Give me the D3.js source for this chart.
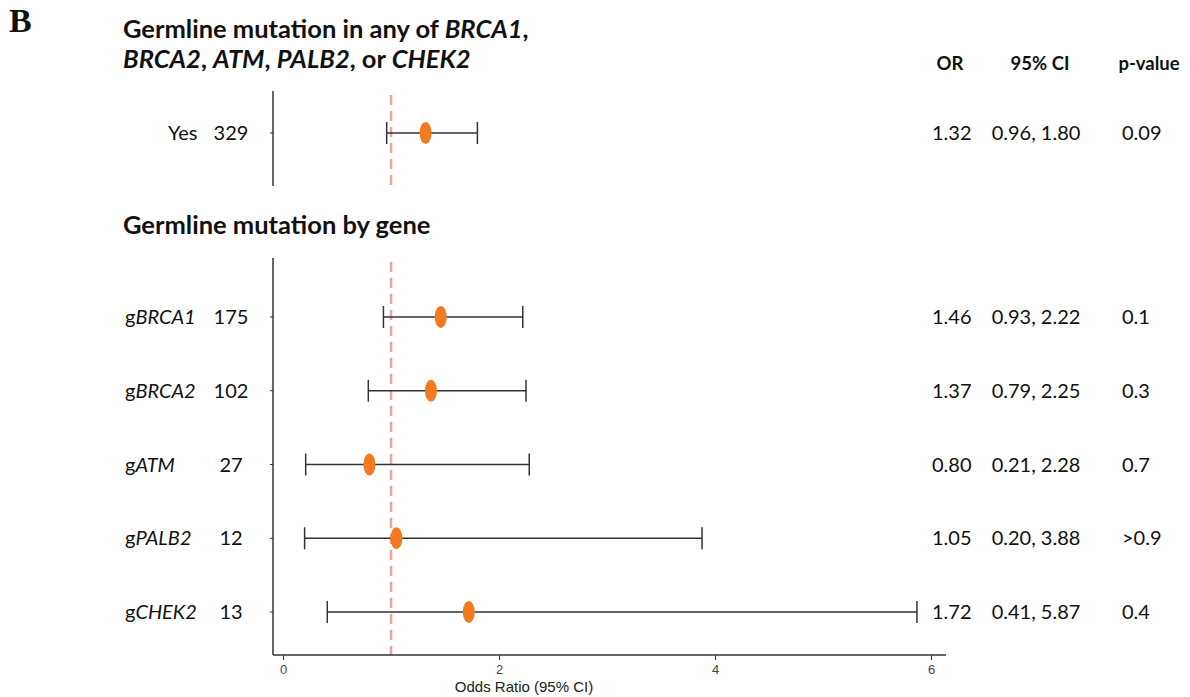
<!DOCTYPE html>
<html>
<head>
<meta charset="utf-8">
<script src="https://cdn.jsdelivr.net/npm/d3@7"></script>
<style>
  body { margin: 0; background: #fff; }
  svg text { font-family: Lato, "Open Sans", sans-serif; fill: #111; }
</style>
</head>
<body>
<div class="graf"></div>
<script>
// data - top panel
const anyLabels = ['Yes'];
const anyN = [329];
const anyOR = [1.32];
const anyLo = [0.96];
const anyHi = [1.80];
const anyP = ['0.09'];

// data - by gene
const genes = ['BRCA1', 'BRCA2', 'ATM', 'PALB2', 'CHEK2'];
const geneN = [175, 102, 27, 12, 13];
const geneOR = [1.46, 1.37, 0.80, 1.05, 1.72];
const geneLo = [0.93, 0.79, 0.21, 0.20, 0.41];
const geneHi = [2.22, 2.25, 2.28, 3.88, 5.87];
const geneP = ['0.1', '0.3', '0.7', '>0.9', '0.4'];

const xTicks = [0, 2, 4, 6];

main()
function main(){
    const width = 1190, height = 697;

    let svg = d3.select('.graf')
        .append('svg')
        .attr('width', width)
        .attr('height', height);

    const x = d3.scaleLinear().domain([0, 6]).range([283, 931]);

    const yTop = d3.scalePoint().domain(anyLabels).range([133, 133]);
    const yBot = d3.scalePoint().domain(genes).range([317, 612]);

    // panel letter + titles
    svg.append('text').attr('x', 9).attr('y', 32)
        .style('font-family', '"Liberation Serif", serif')
        .style('font-weight', 'bold').style('font-size', '34px').text('B');

    const titleSize = '25.5px';
    let t1 = svg.append('text').attr('x', 123).attr('y', 38)
        .style('font-weight', 'bold').style('font-size', titleSize);
    t1.append('tspan').text('Germline mutation in any of ');
    t1.append('tspan').style('font-style', 'italic').text('BRCA1');
    t1.append('tspan').text(',');

    let t2 = svg.append('text').attr('x', 123).attr('y', 68)
        .style('font-weight', 'bold').style('font-size', titleSize);
    [['BRCA2', 1], [', ', 0], ['ATM', 1], [', ', 0], ['PALB2', 1], [', or ', 0], ['CHEK2', 1]]
        .forEach(([s, it]) => t2.append('tspan').style('font-style', it ? 'italic' : 'normal').text(s));

    svg.append('text').attr('x', 123).attr('y', 234)
        .style('font-weight', 'bold').style('font-size', titleSize)
        .text('Germline mutation by gene');

    // table headers
    [['OR', 950], ['95% CI', 1040], ['p-value', 1149]].forEach(([s, cx]) => {
        svg.append('text').attr('x', cx).attr('y', 70)
            .attr('text-anchor', 'middle')
            .style('font-weight', 'bold').style('font-size', '18.5px').text(s);
    });

    // panels
    drawPanel(svg, x, yTop, [91, 186],
        anyLabels.map((d, i) => ({ key: d, label: [['Yes', 0]], labelX: 168, n: anyN[i], or: anyOR[i], lo: anyLo[i], hi: anyHi[i], p: anyP[i] })));

    drawPanel(svg, x, yBot, [258, 655],
        genes.map((d, i) => ({ key: d, label: [['g', 0], [d, 1]], labelX: 125, n: geneN[i], or: geneOR[i], lo: geneLo[i], hi: geneHi[i], p: geneP[i] })));

    // x axis
    let xAxis = svg.append('g')
        .attr('transform', 'translate(0,655)')
        .call(d3.axisBottom(x).tickValues(xTicks).tickFormat(d3.format('d')).tickSize(5).tickSizeOuter(0));
    xAxis.select('.domain').remove();
    xAxis.selectAll('line').attr('stroke', '#333');
    xAxis.selectAll('text')
        .style('font-family', '"Liberation Sans Narrow", "Liberation Sans", Arial, sans-serif')
        .style('font-size', '13px').style('fill', '#444').attr('dy', '0.85em');
    svg.append('line').attr('x1', 273).attr('x2', 946).attr('y1', 655).attr('y2', 655)
        .attr('stroke', '#333').attr('stroke-width', 1.5);

    svg.append('text').attr('x', 524).attr('y', 692).attr('text-anchor', 'middle')
        .style('font-family', '"Liberation Sans Narrow", "Liberation Sans", Arial, sans-serif')
        .style('font-size', '15px').style('fill', '#222')
        .text('Odds Ratio (95% CI)');

    function drawPanel(svg, x, y, yr, rows){
        let g = svg.append('g');
        // left axis
        g.append('line').attr('x1', 273).attr('x2', 273).attr('y1', yr[0]).attr('y2', yr[1])
            .attr('stroke', '#333').attr('stroke-width', 1.5);
        // reference line at OR = 1
        g.append('line').attr('x1', x(1)).attr('x2', x(1)).attr('y1', yr[0] + 4).attr('y2', yr[1])
            .attr('stroke', '#F7A1A1').attr('stroke-width', 2.5).attr('stroke-dasharray', '10,6');

        let r = g.selectAll('.row').data(rows).join('g')
            .attr('transform', d => `translate(0,${y(d.key)})`);

        r.append('line').attr('x1', 270).attr('x2', 273).attr('stroke', '#333');

        r.append('line').attr('x1', d => x(d.lo)).attr('x2', d => x(d.hi))
            .attr('stroke', '#333').attr('stroke-width', 1.5);
        r.append('line').attr('x1', d => x(d.lo)).attr('x2', d => x(d.lo)).attr('y1', -11).attr('y2', 11)
            .attr('stroke', '#333').attr('stroke-width', 1.5);
        r.append('line').attr('x1', d => x(d.hi)).attr('x2', d => x(d.hi)).attr('y1', -11).attr('y2', 11)
            .attr('stroke', '#333').attr('stroke-width', 1.5);
        r.append('ellipse').attr('cx', d => x(d.or)).attr('rx', 6).attr('ry', 11)
            .attr('fill', '#F47A20');

        let lab = r.append('text').attr('x', d => d.labelX).attr('dy', '0.35em').style('font-size', '20px');
        lab.each(function(d){
            d.label.forEach(([s, it]) => d3.select(this).append('tspan')
                .style('font-style', it ? 'italic' : 'normal').text(s));
        });
        r.append('text').attr('x', 231).attr('dy', '0.35em').attr('text-anchor', 'middle')
            .style('font-size', '20px').text(d => d.n);

        r.append('text').attr('x', 932).attr('dy', '0.35em').style('font-size', '20px')
            .text(d => d.or.toFixed(2));
        r.append('text').attr('x', 1036).attr('dy', '0.35em').attr('text-anchor', 'middle').style('font-size', '20px')
            .text(d => `${d.lo.toFixed(2)}, ${d.hi.toFixed(2)}`);
        r.append('text').attr('x', 1122).attr('dy', '0.35em').style('font-size', '20px')
            .text(d => d.p);
    }
}
</script>
</body>
</html>
